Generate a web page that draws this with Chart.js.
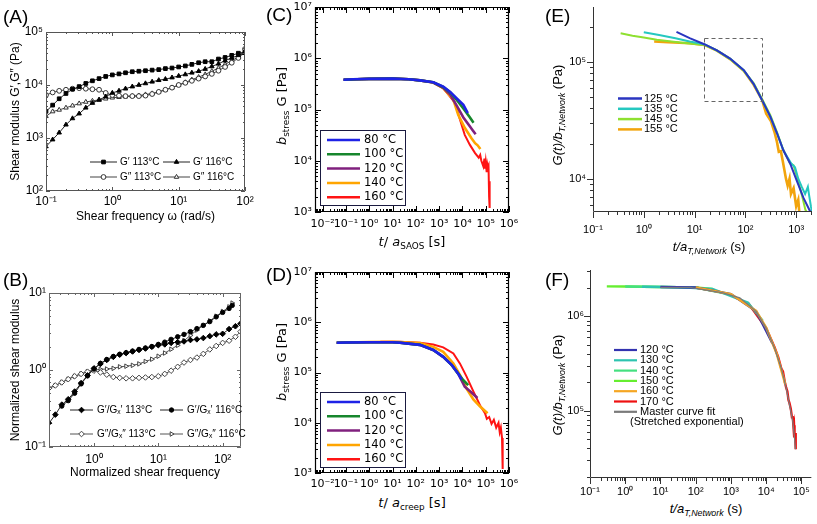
<!DOCTYPE html>
<html>
<head>
<meta charset="utf-8">
<title>Relaxation and dynamic moduli panels</title>
<script src="https://cdn.jsdelivr.net/npm/chart.js@4.4.1/dist/chart.umd.min.js"></script>
<style>
  html, body { margin: 0; padding: 0; background: #fff; }
  body { position: relative; width: 817px; height: 524px; overflow: hidden; font-family: "Liberation Sans", Arial, sans-serif; color: #000; }
  canvas { position: absolute; }
  .t { position: absolute; white-space: nowrap; line-height: 1; }
  .letter { font-size: 19px; }
  .rot { transform: translate(-50%, -50%) rotate(-90deg); }
  .ctr { transform: translate(-50%, -50%); }
  .gothic { font-family: "DejaVu Sans", sans-serif; }
  sub { font-size: 68%; vertical-align: -0.35em; line-height: 0; }
</style>
</head>
<body>
<canvas id="chartA"></canvas>
<canvas id="chartB"></canvas>
<canvas id="chartC"></canvas>
<canvas id="chartD"></canvas>
<canvas id="chartE"></canvas>
<canvas id="chartF"></canvas>

<div class="t letter" style="left:3px;top:7px">(A)</div>
<div class="t letter" style="left:3px;top:270px">(B)</div>
<div class="t letter" style="left:266px;top:5px">(C)</div>
<div class="t letter" style="left:266px;top:265px">(D)</div>
<div class="t letter" style="left:545px;top:6px">(E)</div>
<div class="t letter" style="left:545px;top:270px">(F)</div>

<div class="t rot gothic" style="left:281px;top:106px;font-size:13px"><i>b</i><sub>stress</sub> G [Pa]</div>
<div class="t ctr gothic" style="left:412px;top:241px;font-size:13px"><i>t</i>/ <i>a</i><sub>SAOS</sub> [s]</div>
<div class="t rot gothic" style="left:281px;top:362px;font-size:13px"><i>b</i><sub>stress</sub> G [Pa]</div>
<div class="t ctr gothic" style="left:412px;top:502px;font-size:13px"><i>t</i>/ <i>a</i><sub>creep</sub> [s]</div>
<div class="t rot" style="left:557px;top:115px;font-size:13px"><i>G(t)/b</i><sub><i>T,Network</i></sub> (Pa)</div>
<div class="t ctr" style="left:709px;top:246px;font-size:13px"><i>t/a</i><sub><i>T,Network</i></sub> (s)</div>
<div class="t rot" style="left:557px;top:385px;font-size:13px"><i>G(t)/b</i><sub><i>T,Network</i></sub> (Pa)</div>
<div class="t ctr" style="left:706px;top:508px;font-size:13px"><i>t/a</i><sub><i>T,Network</i></sub> (s)</div>

<script>
// ---------- data ----------
// (A) dynamic moduli vs shear frequency
var freqA = [0.1, 0.126, 0.158, 0.2, 0.251, 0.316, 0.398, 0.501, 0.631, 0.794, 1, 1.26, 1.58, 2, 2.51, 3.16, 3.98, 5.01, 6.31, 7.94, 10, 12.6, 15.8, 20, 25.1, 31.6, 39.8, 50.1, 63.1, 79.4, 100];
var gp113A = [3160, 4170, 5500, 6920, 8320, 9330, 10700, 12000, 13200, 14500, 15500, 16200, 17000, 17800, 18200, 18600, 19100, 19500, 20400, 20900, 21900, 22900, 24500, 26300, 27500, 27500, 30900, 33100, 36300, 39800, 41700];
var gp116A = [692, 933, 1260, 1780, 2340, 2880, 3720, 4570, 5250, 6030, 7080, 7760, 8510, 9330, 10000, 10700, 11500, 12300, 12900, 13800, 14800, 15800, 17000, 18200, 20000, 22400, 25100, 28800, 32400, 36300, 39800];
var gpp113A = [6460, 7240, 7760, 8130, 8510, 8710, 8510, 8320, 8130, 7080, 6460, 6310, 6170, 6170, 6170, 6310, 6760, 7410, 8130, 8910, 10000, 11000, 12000, 13200, 14500, 16200, 18600, 21900, 26300, 32400, 47900];
var gpp116A = [2570, 3160, 3390, 3720, 4070, 4470, 4790, 5010, 5250, 5500, 5750, 5890, 6030, 6170, 6310, 6610, 6920, 7410, 8130, 8910, 10000, 11200, 12600, 14100, 15800, 18200, 20900, 24500, 28800, 33900, 39800];
var ticksAx = [0.1, 1, 10, 100];
var ticksAy = [100, 1000, 10000, 100000];

// (B) normalized moduli
var freqB = [0.2, 0.251, 0.316, 0.398, 0.501, 0.631, 0.794, 1, 1.26, 1.58, 2, 2.51, 3.16, 3.98, 5.01, 6.31, 7.94, 10, 12.6, 15.8, 20, 25.1, 31.6, 39.8, 50.1, 63.1, 79.4, 100, 126, 158, 190];
var gp113B = [0.204, 0.263, 0.355, 0.417, 0.525, 0.676, 0.851, 1.05, 1.2, 1.35, 1.48, 1.58, 1.66, 1.74, 1.82, 1.9, 2.0, 2.1, 2.15, 2.25, 2.3, 2.35, 2.45, 2.5, 2.6, 2.75, 2.9, 2.95, 3.4, 3.7, 4.0];
var gpp113B = [0.58, 0.63, 0.69, 0.76, 0.83, 0.89, 0.95, 0.98, 0.93, 0.87, 0.81, 0.79, 0.78, 0.78, 0.79, 0.8, 0.81, 0.83, 0.89, 0.98, 1.1, 1.25, 1.35, 1.45, 1.62, 1.85, 2.05, 2.25, 2.4, 2.7, 3.15];
var freqB116 = [0.316, 0.398, 0.501, 0.631, 0.794, 1, 1.26, 1.58, 2, 2.51, 3.16, 3.98, 5.01, 6.31, 7.94, 10, 12.6, 15.8, 20, 25.1, 31.6, 39.8, 50.1, 63.1, 79.4, 100, 126, 141];
var gp116B = [0.34, 0.4, 0.5, 0.66, 0.84, 1.03, 1.22, 1.37, 1.5, 1.6, 1.68, 1.76, 1.85, 1.93, 2.02, 2.15, 2.3, 2.5, 2.7, 2.9, 3.15, 3.45, 3.8, 4.25, 4.9, 5.6, 6.3, 6.9];
var freqB116pp = [0.2, 0.251, 0.316, 0.398, 0.501, 0.631, 0.794, 1, 1.26, 1.58, 2, 2.51, 3.16, 3.98, 5.01, 6.31, 7.94, 10, 12.6, 15.8, 20, 25.1, 31.6, 39.8, 50.1, 63.1, 79.4, 100, 126, 141];
var gpp116B = [0.58, 0.63, 0.69, 0.76, 0.83, 0.89, 0.95, 1.0, 1.02, 1.03, 1.05, 1.1, 1.12, 1.15, 1.2, 1.29, 1.38, 1.51, 1.66, 1.86, 2.09, 2.4, 2.82, 3.3, 3.8, 4.35, 5.0, 5.75, 6.6, 7.4];
var ticksBx = [1, 10, 100];
var ticksBy = [0.1, 1, 10];

// (C) SAOS-shifted relaxation modulus
var labelsC = ['80 °C', '100 °C', '120 °C', '140 °C', '160 °C'];
var tC80 = [0.078, 0.2, 1, 10, 50, 150, 560, 1500, 3000, 5600, 11000, 17000];
var gC80 = [3.8e5, 3.9e5, 3.95e5, 4.0e5, 3.9e5, 3.7e5, 3.4e5, 2.8e5, 2.2e5, 1.66e5, 1.23e5, 8.5e4];
var tC100 = [0.08, 0.3, 1, 10, 50, 150, 560, 1500, 3000, 5600, 11000, 20000, 30000];
var gC100 = [3.8e5, 3.9e5, 3.95e5, 4.0e5, 3.9e5, 3.7e5, 3.4e5, 2.75e5, 2.15e5, 1.55e5, 1.05e5, 7.2e4, 5.5e4];
var tC120 = [0.08, 0.3, 1, 10, 50, 150, 560, 1500, 3000, 5600, 11000, 20000, 28000, 37000];
var gC120 = [3.8e5, 3.9e5, 3.95e5, 4.0e5, 3.9e5, 3.7e5, 3.35e5, 2.65e5, 1.95e5, 1.2e5, 7.0e4, 4.8e4, 3.9e4, 3.3e4];
var tC140 = [0.08, 0.3, 1, 10, 50, 150, 560, 1500, 4100, 6600, 12600, 24500, 35000, 45000, 59000];
var gC140 = [3.8e5, 3.9e5, 3.95e5, 4.0e5, 3.9e5, 3.7e5, 3.35e5, 2.6e5, 1.55e5, 7.9e4, 4.4e4, 2.75e4, 2.2e4, 2.0e4, 1.7e4];
var tC160 = [0.08, 0.3, 1, 10, 50, 150, 560, 1500, 4800, 7900, 12600, 21000, 35000, 50000, 58000, 65000, 79000, 88000, 93000, 100000, 110000, 118000, 125000, 132000, 140000, 145000, 150000];
var gC160 = [3.8e5, 3.9e5, 3.95e5, 4.0e5, 3.9e5, 3.7e5, 3.35e5, 2.6e5, 1.35e5, 6.3e4, 3.2e4, 2.04e4, 1.41e4, 1.15e4, 1.3e4, 1.0e4, 7.8e3, 1.1e4, 7.0e3, 9.5e3, 6.0e3, 8.5e3, 7.5e3, 8.0e3, 2.0e3, 4.0e3, 1.2e3];
var ticksCx = [0.01, 0.1, 1, 10, 100, 1e3, 1e4, 1e5, 1e6];
var ticksCy = [1e3, 1e4, 1e5, 1e6, 1e7];

// (D) creep-shifted relaxation modulus
var tD80 = [0.04, 0.1, 1, 10, 21, 150, 560, 1500, 3500, 6600, 9300];
var gD80 = [3.9e5, 3.95e5, 4.0e5, 4.0e5, 3.9e5, 3.55e5, 2.8e5, 2.05e5, 1.41e5, 9.5e4, 7.2e4];
var tD100 = [0.04, 0.1, 1, 10, 21, 150, 560, 1500, 3500, 6600, 11000, 17800];
var gD100 = [3.9e5, 3.95e5, 4.0e5, 4.0e5, 3.9e5, 3.55e5, 2.8e5, 2.05e5, 1.4e5, 9.5e4, 7.0e4, 5.6e4];
var tD120 = [0.04, 0.1, 1, 10, 21, 150, 560, 1500, 3500, 6600, 12600, 24500, 44000];
var gD120 = [3.9e5, 3.95e5, 4.0e5, 4.0e5, 3.9e5, 3.55e5, 2.8e5, 2.05e5, 1.4e5, 9.5e4, 5.2e4, 4.0e4, 3.1e4];
var tD140 = [0.04, 0.1, 1, 10, 150, 560, 1500, 4100, 7900, 15100, 29500, 57500, 120000];
var gD140 = [3.9e5, 3.95e5, 4.05e5, 4.1e5, 3.85e5, 3.24e5, 2.57e5, 1.51e5, 8.9e4, 4.8e4, 2.9e4, 2.1e4, 1.55e4];
var tD160 = [3, 21, 150, 560, 1500, 4100, 7900, 15100, 29500, 57500, 93000, 112000, 141000, 178000, 224000, 282000, 355000, 400000, 447000, 501000, 530000, 540000];
var gD160 = [4.1e5, 4.1e5, 3.9e5, 3.6e5, 3.16e5, 2.4e5, 1.5e5, 8.3e4, 4.2e4, 2.2e4, 1.55e4, 1.2e4, 1.3e4, 9.5e3, 1.15e4, 8.0e3, 1.0e4, 6.5e3, 8.0e3, 5.0e3, 2.5e3, 1.2e3];

// (E) network relaxation
var labelsE = ['125 °C', '135 °C', '145 °C', '155 °C'];
var tE125 = [4.4, 8, 15.5, 27.5, 50, 93, 145, 214, 310, 420, 560, 760, 1040, 1400, 1900];
var gE125 = [1.81e5, 1.6e5, 1.42e5, 1.26e5, 1.07e5, 8.5e4, 6.5e4, 4.7e4, 3.4e4, 2.45e4, 1.75e4, 1.35e4, 9.5e3, 6.8e3, 5.2e3];
var tE135 = [1.0, 2, 4.2, 8, 15.5, 27.5, 50, 93, 145, 214, 310, 420, 560, 660, 800, 950, 1100, 1290, 1500, 1700, 1800, 1950, 2050];
var gE135 = [1.8e5, 1.7e5, 1.6e5, 1.5e5, 1.42e5, 1.26e5, 1.07e5, 8.5e4, 6.5e4, 4.7e4, 3.4e4, 2.45e4, 1.75e4, 1.55e4, 1.35e4, 1.25e4, 1.0e4, 8.5e3, 7.4e3, 8.5e3, 7.2e3, 5.8e3, 5.2e3];
var tE145 = [0.35, 0.6, 1, 1.8, 3.5, 7, 15.5, 27.5, 50, 93, 145, 214, 310, 420, 560, 760, 890, 1040, 1320, 1520, 1700];
var gE145 = [1.76e5, 1.68e5, 1.62e5, 1.55e5, 1.5e5, 1.45e5, 1.4e5, 1.25e5, 1.06e5, 8.4e4, 6.6e4, 4.8e4, 3.5e4, 2.5e4, 1.75e4, 1.35e4, 1.3e4, 1.04e4, 7.0e3, 5.4e3, 5.0e3];
var tE155 = [1.6, 3, 5, 8.2, 15.5, 27.5, 50, 93, 145, 214, 257, 320, 375, 415, 455, 500, 550, 630, 680, 740, 790, 890, 1000, 1100, 1170];
var gE155 = [1.5e5, 1.48e5, 1.46e5, 1.45e5, 1.4e5, 1.25e5, 1.06e5, 8.4e4, 6.4e4, 4.7e4, 3.6e4, 3.1e4, 2.5e4, 2.1e4, 1.7e4, 1.72e4, 1.38e4, 1.0e4, 8.7e3, 1.0e4, 7.4e3, 8.3e3, 5.8e3, 6.6e3, 4.8e3];
var zoomBoxE = { t0: 15.5, t1: 214, g0: 4.7e4, g1: 1.62e5 };
var ticksEx = [0.1, 1, 10, 100, 1000];
var ticksEy = [1e4, 1e5];

// (F) network master curve
var labelsF = ['120 °C', '130 °C', '140 °C', '150 °C', '160 °C', '170 °C', 'Master curve fit'];
var tF120 = [10, 100, 1000, 5200, 15000];
var gF120 = [2.05e6, 2.02e6, 1.72e6, 1.13e6, 5.2e5];
var tF130 = [3, 30, 300, 3000, 8000];
var gF130 = [2.06e6, 2.04e6, 1.95e6, 1.4e6, 9.0e5];
var tF140 = [1, 10, 100, 1000];
var gF140 = [2.07e6, 2.05e6, 2.02e6, 1.7e6];
var tF150 = [0.3, 1, 10, 100, 300];
var gF150 = [2.08e6, 2.07e6, 2.05e6, 2.02e6, 1.95e6];
var tF160 = [100, 1000, 5200, 10000, 20000, 35000];
var gF160 = [2.02e6, 1.72e6, 1.14e6, 7.6e5, 4.0e5, 1.9e5];
var tF170 = [3000, 10000, 17300, 22000, 27000, 30000, 34000, 37000, 40000, 43000, 46000, 50000, 54000, 57000, 60000, 62000, 64000, 66000, 68000, 70000];
var gF170 = [1.4e6, 7.5e5, 4.7e5, 3.7e5, 2.8e5, 2.6e5, 2.0e5, 1.75e5, 1.6e5, 1.3e5, 1.2e5, 1.05e5, 8.5e4, 8.5e4, 6.5e4, 7.0e4, 5.2e4, 5.8e4, 3.9e4, 4.6e4];
var tFfit = [10, 68, 600, 1780, 5200, 10000, 17300, 27000, 37000, 46000, 57000, 64000, 68000];
var gFfit = [2.03e6, 2.03e6, 1.77e6, 1.57e6, 1.13e6, 7.5e5, 4.6e5, 2.8e5, 1.74e5, 1.16e5, 7.7e4, 5.1e4, 3.9e4];
var ticksFx = [0.1, 1, 10, 100, 1e3, 1e4, 1e5];
var ticksFy = [1e5, 1e6];

// ---------- styles ----------
var colorsC = ['#1e22e6', '#16862c', '#80207e', '#ffa500', '#ff1414'];
var colorsE = ['#2a35c0', '#25c8c0', '#8ee030', '#f2a40c'];
var colorsF = ['#3333b0', '#2ec4b0', '#44e080', '#66ee30', '#f5a623', '#ee1111', '#7a7a7a'];

Chart.defaults.font.family = '"Liberation Sans", Arial, sans-serif';
Chart.defaults.color = '#000';

var SUP = '⁰¹²³⁴⁵⁶⁷⁸⁹';
function expLabel(v) {
  var e = Math.round(Math.log10(v));
  return '10' + String(e).replace(/-/g, '⁻').replace(/\d/g, function (d) { return SUP[d]; });
}

function pts(xs, ys) {
  return xs.map(function (x, i) { return { x: x, y: ys[i] }; });
}

function line(label, color, xs, ys, width, extra) {
  var ds = { label: label, data: pts(xs, ys), borderColor: color, backgroundColor: color,
    borderWidth: width, pointRadius: 0, tension: 0, fill: false };
  for (var k in extra) ds[k] = extra[k];
  return ds;
}

function logAxis(min, max, tickVals, font, pad) {
  return {
    type: 'logarithmic', min: min, max: max,
    grid: { display: false, drawTicks: false }, border: { display: false },
    afterBuildTicks: function (s) { s.ticks = tickVals.map(function (v) { return { value: v }; }); },
    ticks: { autoSkip: false, maxRotation: 0, padding: pad, font: font, color: '#000',
      callback: function (v) { return expLabel(v); } }
  };
}

function drawMark(ctx, ds, x, y) {
  if (!ds.pointRadius || !(Chart.helpers && Chart.helpers.drawPoint)) return;
  ctx.fillStyle = ds.pointBackgroundColor;
  ctx.strokeStyle = ds.pointBorderColor;
  ctx.lineWidth = ds.pointBorderWidth || 1;
  Chart.helpers.drawPoint(ctx, { pointStyle: ds.pointStyle, rotation: ds.pointRotation || 0,
    radius: ds.pointRadius, borderWidth: ds.pointBorderWidth || 1 }, x, y);
}

// axis box + tick marks (log decades with minors)
var framePlugin = {
  id: 'frame',
  afterDatasetsDraw: function (chart, args, o) {
    if (!o.mode) return;
    var ctx = chart.ctx, a = chart.chartArea;
    ctx.save();
    ctx.strokeStyle = o.color;
    ctx.lineWidth = o.width;
    ctx.beginPath();
    if (o.mode === 'box') {
      ctx.rect(a.left + 0.5, a.top + 0.5, a.right - a.left - 1, a.bottom - a.top - 1);
    } else {
      ctx.moveTo(a.left + 0.5, a.top);
      ctx.lineTo(a.left + 0.5, a.bottom - 0.5);
      ctx.lineTo(a.right, a.bottom - 0.5);
    }
    ctx.stroke();
    ctx.lineWidth = o.tickWidth || 1;
    ['x', 'y'].forEach(function (k) {
      var s = chart.scales[k];
      var e0 = Math.floor(Math.log10(s.min)), e1 = Math.ceil(Math.log10(s.max));
      for (var e = e0; e <= e1; e++) {
        for (var m = 1; m <= 9; m++) {
          var v = m * Math.pow(10, e);
          if (v < s.min * 0.9999 || v > s.max * 1.0001) continue;
          var p = Math.round(s.getPixelForValue(v)) + 0.5;
          var L = m === 1 ? o.major : o.minor;
          var dir = o.inside ? -1 : 1;
          ctx.beginPath();
          if (k === 'x') {
            ctx.moveTo(p, a.bottom); ctx.lineTo(p, a.bottom + dir * L);
            if (o.mirror) { ctx.moveTo(p, a.top); ctx.lineTo(p, a.top + L); }
          } else {
            ctx.moveTo(a.left, p); ctx.lineTo(a.left - dir * L, p);
            if (o.mirror) { ctx.moveTo(a.right, p); ctx.lineTo(a.right - L, p); }
          }
          ctx.stroke();
        }
      }
    });
    ctx.restore();
  }
};

// legend drawn inside the plotting area
var legendPlugin = {
  id: 'inLegend',
  afterDraw: function (chart, args, o) {
    if (!o.items) return;
    var ctx = chart.ctx, ox = o.ox, oy = o.oy;
    ctx.save();
    if (o.frame) {
      ctx.fillStyle = '#fff';
      ctx.fillRect(o.frame.x - ox, o.frame.y - oy, o.frame.w, o.frame.h);
      ctx.strokeStyle = o.frame.color;
      ctx.lineWidth = 1;
      ctx.strokeRect(o.frame.x - ox + 0.5, o.frame.y - oy + 0.5, o.frame.w, o.frame.h);
    }
    ctx.font = o.font;
    ctx.textBaseline = 'middle';
    o.items.forEach(function (it) {
      var ds = chart.data.datasets[it.ds];
      var x = it.x - ox, y = it.y - oy;
      ctx.strokeStyle = ds.borderColor;
      ctx.lineWidth = o.lineWidth || ds.borderWidth;
      ctx.beginPath();
      ctx.moveTo(x, y); ctx.lineTo(x + o.len, y);
      ctx.stroke();
      drawMark(ctx, ds, x + o.len / 2, y);
      ctx.fillStyle = '#000';
      ctx.fillText(ds.label, x + o.len + o.gap, y);
    });
    (o.extra || []).forEach(function (t) {
      ctx.fillStyle = '#000';
      ctx.fillText(t.text, t.x - ox, t.y - oy);
    });
    ctx.restore();
  }
};

// dashed zoom rectangle in data coordinates
var zoomPlugin = {
  id: 'zoomBox',
  afterDatasetsDraw: function (chart, args, o) {
    if (!o.box) return;
    var sx = chart.scales.x, sy = chart.scales.y, ctx = chart.ctx;
    var x0 = sx.getPixelForValue(o.box.t0), x1 = sx.getPixelForValue(o.box.t1);
    var y0 = sy.getPixelForValue(o.box.g1), y1 = sy.getPixelForValue(o.box.g0);
    ctx.save();
    ctx.strokeStyle = '#666';
    ctx.lineWidth = 1;
    ctx.setLineDash([4, 3]);
    ctx.strokeRect(Math.round(x0) + 0.5, Math.round(y0) + 0.5, Math.round(x1 - x0), Math.round(y1 - y0));
    ctx.restore();
  }
};

Chart.register(framePlugin, legendPlugin, zoomPlugin);

// place a chart so that its plot area lands on `plot` (page px)
function panel(id, box, plot, cfg) {
  var c = document.getElementById(id);
  c.width = box.w; c.height = box.h;
  c.style.left = box.x + 'px'; c.style.top = box.y + 'px';
  var o = cfg.options;
  o.responsive = false;
  o.animation = false;
  o.layout = { padding: { top: plot.y - box.y, right: box.x + box.w - plot.x - plot.w, left: 0, bottom: 0 } };
  o.scales.x.afterFit = function (s) { s.height = box.y + box.h - plot.y - plot.h; };
  o.scales.y.afterFit = function (s) { s.width = plot.x - box.x; };
  o.plugins.legend = { display: false };
  o.plugins.tooltip = { enabled: false };
  if (o.plugins.inLegend) { o.plugins.inLegend.ox = box.x; o.plugins.inLegend.oy = box.y; }
  return new Chart(c, cfg);
}

var fA = { size: 12 };
var fC = { size: 11, family: '"DejaVu Sans", sans-serif' };
var fE = { size: 11 };

// ---------- (A) ----------
var axA = logAxis(0.1, 100, ticksAx, fA, 3);
axA.title = { display: true, text: 'Shear frequency ω (rad/s)', font: { size: 12 }, padding: { top: 0, bottom: 4 }, color: '#000' };
var ayA = logAxis(100, 1e5, ticksAy, fA, 3);
ayA.title = { display: true, text: 'Shear modulus G′,G″ (Pa)', font: { size: 12 }, padding: { top: 8, bottom: 0 }, color: '#000' };
panel('chartA', { x: 0, y: 20, w: 262, h: 208 }, { x: 46, y: 32, w: 199, h: 159 }, {
  type: 'line',
  data: { datasets: [
    line('G′ 113°C', '#222', freqA, gp113A, 1, { pointStyle: 'rect', pointRadius: 2.6, pointBackgroundColor: '#000', pointBorderColor: '#000', pointBorderWidth: 1 }),
    line('G′ 116°C', '#222', freqA, gp116A, 1, { pointStyle: 'triangle', pointRadius: 2.6, pointBackgroundColor: '#000', pointBorderColor: '#000', pointBorderWidth: 1 }),
    line('G″ 113°C', '#444', freqA, gpp113A, 1, { pointStyle: 'circle', pointRadius: 2.4, pointBackgroundColor: '#fff', pointBorderColor: '#333', pointBorderWidth: 1 }),
    line('G″ 116°C', '#444', freqA, gpp116A, 1, { pointStyle: 'triangle', pointRadius: 2.6, pointBackgroundColor: '#fff', pointBorderColor: '#333', pointBorderWidth: 1 })
  ] },
  options: {
    scales: { x: axA, y: ayA },
    plugins: {
      frame: { mode: 'box', color: '#555', width: 1, inside: true, mirror: true, major: 4, minor: 2 },
      inLegend: { font: '10px "Liberation Sans", Arial, sans-serif', len: 27, gap: 3,
        items: [{ ds: 0, x: 90, y: 162 }, { ds: 1, x: 163, y: 162 }, { ds: 2, x: 90, y: 177 }, { ds: 3, x: 163, y: 177 }] }
    }
  }
});

// ---------- (B) ----------
var axB = logAxis(0.2, 193, ticksBx, fA, 5);
axB.title = { display: true, text: 'Normalized shear frequency', font: { size: 12 }, padding: { top: 0, bottom: 4 }, color: '#000' };
var ayB = logAxis(0.1, 10, ticksBy, fA, 3);
ayB.title = { display: true, text: 'Normalized shear modulus', font: { size: 12 }, padding: { top: 8, bottom: 0 }, color: '#000' };
panel('chartB', { x: 0, y: 280, w: 262, h: 204 }, { x: 49, y: 293, w: 192, h: 154 }, {
  type: 'line',
  data: { datasets: [
    line('G′/Gₓ′ 113°C', '#222', freqB, gp113B, 1, { pointStyle: 'rectRot', pointRadius: 2.8, pointBackgroundColor: '#000', pointBorderColor: '#000', pointBorderWidth: 1 }),
    line('G′/Gₓ′ 116°C', '#222', freqB116, gp116B, 1, { pointStyle: 'circle', pointRadius: 2.2, pointBackgroundColor: '#000', pointBorderColor: '#000', pointBorderWidth: 1 }),
    line('G″/Gₓ″ 113°C', '#555', freqB, gpp113B, 1, { pointStyle: 'rectRot', pointRadius: 2.8, pointBackgroundColor: '#fff', pointBorderColor: '#444', pointBorderWidth: 1 }),
    line('G″/Gₓ″ 116°C', '#555', freqB116pp, gpp116B, 1, { pointStyle: 'triangle', pointRotation: 90, pointRadius: 2.6, pointBackgroundColor: '#fff', pointBorderColor: '#444', pointBorderWidth: 1 })
  ] },
  options: {
    scales: { x: axB, y: ayB },
    plugins: {
      frame: { mode: 'box', color: '#666', width: 1, inside: true, mirror: true, major: 4, minor: 2 },
      inLegend: { font: '10px "Liberation Sans", Arial, sans-serif', len: 23, gap: 4,
        items: [{ ds: 0, x: 70, y: 410 }, { ds: 1, x: 160, y: 410 }, { ds: 2, x: 70, y: 434 }, { ds: 3, x: 160, y: 434 }] }
    }
  }
});

// ---------- (C) ----------
function legendC(top) {
  return { font: '11.5px "DejaVu Sans", sans-serif', len: 33, gap: 4, lineWidth: 2.5,
    frame: { x: 320, y: top, w: 85, h: 75, color: '#1a1a40' },
    items: [0, 1, 2, 3, 4].map(function (i) { return { ds: i, x: 327, y: top + 10 + i * 14.3 }; }) };
}
panel('chartC', { x: 284, y: -8, w: 241, h: 244 }, { x: 315, y: 7, w: 194, h: 205 }, {
  type: 'line',
  data: { datasets: [
    line(labelsC[0], colorsC[0], tC80, gC80, 2.6),
    line(labelsC[1], colorsC[1], tC100, gC100, 2.6),
    line(labelsC[2], colorsC[2], tC120, gC120, 2.6),
    line(labelsC[3], colorsC[3], tC140, gC140, 2.6),
    line(labelsC[4], colorsC[4], tC160, gC160, 2)
  ] },
  options: {
    scales: { x: logAxis(0.0047, 1e6, ticksCx, fC, 6), y: logAxis(1e3, 1e7, ticksCy, fC, 3) },
    plugins: {
      frame: { mode: 'box', color: '#000', width: 1.2, inside: true, mirror: true, major: 6, minor: 3 },
      inLegend: legendC(130)
    }
  }
});

// ---------- (D) ----------
panel('chartD', { x: 284, y: 256, w: 241, h: 236 }, { x: 315, y: 272, w: 194, h: 201 }, {
  type: 'line',
  data: { datasets: [
    line(labelsC[0], colorsC[0], tD80, gD80, 2.6),
    line(labelsC[1], colorsC[1], tD100, gD100, 2.6),
    line(labelsC[2], colorsC[2], tD120, gD120, 2.6),
    line(labelsC[3], colorsC[3], tD140, gD140, 2.6),
    line(labelsC[4], colorsC[4], tD160, gD160, 2)
  ] },
  options: {
    scales: { x: logAxis(0.0047, 1e6, ticksCx, fC, 5), y: logAxis(1e3, 1e7, ticksCy, fC, 3) },
    plugins: {
      frame: { mode: 'box', color: '#000', width: 1.2, inside: true, mirror: true, major: 6, minor: 3 },
      inLegend: legendC(392)
    }
  }
});

// ---------- (E) ----------
panel('chartE', { x: 562, y: -8, w: 255, h: 246 }, { x: 593, y: 7, w: 219, h: 205 }, {
  type: 'line',
  data: { datasets: [
    line(labelsE[0], colorsE[0], tE125, gE125, 2),
    line(labelsE[1], colorsE[1], tE135, gE135, 2),
    line(labelsE[2], colorsE[2], tE145, gE145, 2),
    line(labelsE[3], colorsE[3], tE155, gE155, 2.6)
  ] },
  options: {
    scales: { x: logAxis(0.1, 2050, ticksEx, fE, 11), y: logAxis(5180, 2.96e5, ticksEy, fE, 7) },
    plugins: {
      frame: { mode: 'axes', color: '#333', width: 1, inside: false, mirror: false, major: 6, minor: 3 },
      zoomBox: { box: zoomBoxE },
      inLegend: { font: '11px "Liberation Sans", Arial, sans-serif', len: 24, gap: 2, lineWidth: 2.5,
        items: [0, 1, 2, 3].map(function (i) { return { ds: i, x: 618, y: 98.5 + i * 10.3 }; }) }
    }
  }
});

// ---------- (F) ----------
panel('chartF', { x: 562, y: 255, w: 255, h: 245 }, { x: 590, y: 270, w: 222, h: 208 }, {
  type: 'line',
  data: { datasets: [
    line(labelsF[0], colorsF[0], tF120, gF120, 2.4, { order: 2 }),
    line(labelsF[1], colorsF[1], tF130, gF130, 2.4, { order: 3 }),
    line(labelsF[2], colorsF[2], tF140, gF140, 2.4, { order: 4 }),
    line(labelsF[3], colorsF[3], tF150, gF150, 2.4, { order: 5 }),
    line(labelsF[4], colorsF[4], tF160, gF160, 2.4, { order: 1 }),
    line(labelsF[5], colorsF[5], tF170, gF170, 2.4, { order: 6 }),
    line(labelsF[6], colorsF[6], tFfit, gFfit, 1.3, { order: 0 })
  ] },
  options: {
    scales: { x: logAxis(0.1, 1.92e5, ticksFx, fE, 7), y: logAxis(1.93e4, 3.1e6, ticksFy, fE, 6) },
    plugins: {
      frame: { mode: 'axes', color: '#333', width: 1, inside: false, mirror: false, major: 6, minor: 3 },
      inLegend: { font: '11px "Liberation Sans", Arial, sans-serif', len: 23, gap: 3, lineWidth: 2.2,
        items: [0, 1, 2, 3, 4, 5, 6].map(function (i) { return { ds: i, x: 614, y: 350 + i * 10.3 }; }),
        extra: [{ text: '(Stretched exponential)', x: 630, y: 422 }] }
    }
  }
});
</script>
</body>
</html>
